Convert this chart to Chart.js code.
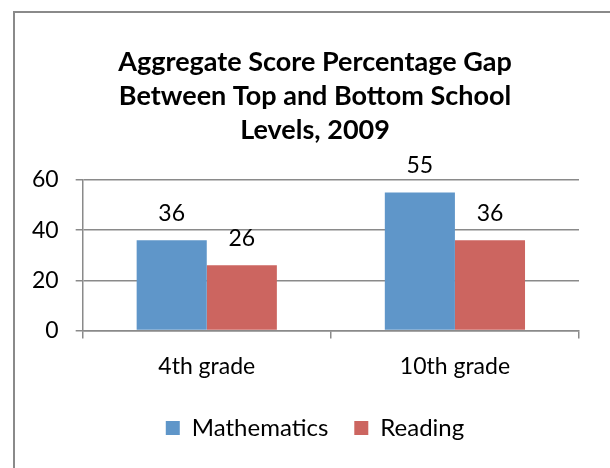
<!DOCTYPE html>
<html>
<head>
<meta charset="utf-8">
<script src="https://cdn.jsdelivr.net/npm/chart.js@4"></script>
<style>
    html, body { margin: 0; padding: 0; background: #ffffff; overflow: hidden; }
    #frame {
        position: absolute;
        left: 13px;
        top: 11px;
        width: 600px;
        height: 470px;
        border: 2px solid #8a8a8a;
    }
    #chart { display: block; }
</style>
</head>
<body>
<div id="frame">
    <canvas id="chart" width="600" height="460"></canvas>
</div>
<script>
const categories = ['4th grade', '10th grade'];
const mathValues = [36, 55];
const readingValues = [26, 36];
const yTicks = [0, 20, 40, 60];
const titleLines = ['Aggregate Score Percentage Gap', 'Between Top and Bottom School', 'Levels, 2009'];

const fontFamily = 'Lato, "Open Sans", sans-serif';

// draws the value above each bar
const barValues = {
    id: 'barValues',
    afterDatasetsDraw: function (chart) {
        const ctx = chart.ctx;
        ctx.save();
        ctx.font = '23px ' + fontFamily;
        ctx.fillStyle = '#000000';
        ctx.textAlign = 'center';
        ctx.textBaseline = 'middle';
        chart.data.datasets.forEach(function (ds, i) {
            chart.getDatasetMeta(i).data.forEach(function (bar, j) {
                ctx.fillText(String(ds.data[j]), bar.x, bar.y - 27);
            });
        });
        ctx.restore();
    }
};

// center title and legend on the whole frame, not the padded box
const centerBlocks = {
    id: 'centerBlocks',
    afterLayout: function (chart) {
        [chart.titleBlock, chart.legend].forEach(function (block) {
            if (block) {
                block.left = 0;
                block.right = chart.width;
                block.width = chart.width;
            }
        });
    }
};

new Chart(document.getElementById('chart'), {
    type: 'bar',
    data: {
        labels: categories,
        datasets: [
            {
                label: 'Mathematics',
                data: mathValues,
                backgroundColor: '#5f96c9',
                borderWidth: 0
            },
            {
                label: 'Reading',
                data: readingValues,
                backgroundColor: '#cc6560',
                borderWidth: 0
            }
        ]
    },
    options: {
        responsive: false,
        animation: false,
        layout: {
            padding: { left: 0, right: 36, top: 0, bottom: 23 }
        },
        datasets: {
            bar: {
                categoryPercentage: 0.565,
                barPercentage: 1
            }
        },
        plugins: {
            title: {
                display: true,
                text: titleLines,
                color: '#000000',
                font: { family: fontFamily, size: 27, weight: 'bold', lineHeight: 1.26 },
                padding: { top: 32, bottom: 33 }
            },
            legend: {
                position: 'bottom',
                labels: {
                    color: '#000000',
                    font: { family: fontFamily, size: 24 },
                    boxWidth: 14,
                    boxHeight: 14,
                    padding: 26
                }
            },
            tooltip: { enabled: false }
        },
        scales: {
            x: {
                afterFit: function (axis) {
                    axis.height -= 4;
                },
                grid: {
                    offset: true,
                    drawOnChartArea: false,
                    drawTicks: true,
                    tickLength: 8,
                    color: '#8a8a8a',
                    lineWidth: 1.5
                },
                border: { color: '#8a8a8a', width: 1.5 },
                ticks: {
                    color: '#000000',
                    font: { family: fontFamily, size: 23 },
                    padding: 14
                }
            },
            y: {
                min: 0,
                max: 60,
                afterBuildTicks: function (axis) {
                    axis.ticks = yTicks.map(function (v) { return { value: v }; });
                },
                grid: {
                    color: '#8a8a8a',
                    lineWidth: 1.5,
                    tickLength: 7
                },
                border: { color: '#8a8a8a', width: 1.5 },
                ticks: {
                    color: '#000000',
                    font: { family: fontFamily, size: 23 },
                    padding: 17
                }
            }
        }
    },
    plugins: [barValues, centerBlocks]
});
</script>
</body>
</html>
